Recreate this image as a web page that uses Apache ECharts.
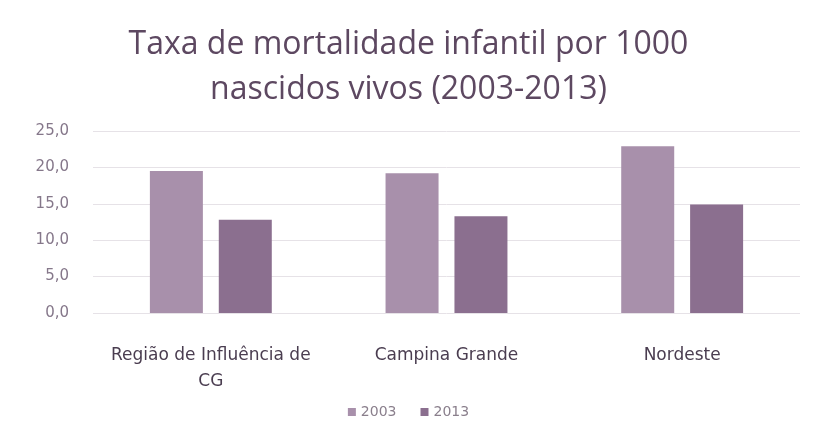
<!DOCTYPE html>
<html>
<head>
<meta charset="utf-8">
<script src="https://cdn.jsdelivr.net/npm/echarts@6/dist/echarts.min.js"></script>
<style>html,body{margin:0;padding:0;background:#fff}#c{width:817px;height:443px}</style>
</head>
<body>
<div id="c"></div>
<script>
var categories = ["Região de Influência de\nCG", "Campina Grande", "Nordeste"];
var seriesNames = ["2003", "2013"];
var values2003 = [19.5, 19.2, 22.9];
var values2013 = [12.8, 13.3, 14.9];
var yTicks = [0, 5, 10, 15, 20, 25];

var chart = echarts.init(document.getElementById('c'));
var titleFont = "'Open Sans', 'Noto Sans', sans-serif";
var font = "'DejaVu Sans', 'Noto Sans', sans-serif";
chart.setOption({
  animation: false,
  backgroundColor: '#ffffff',
  title: {
    text: 'Taxa de mortalidade infantil por 1000\nnascidos vivos (2003-2013)',
    left: 'center',
    top: 17,
    textStyle: { fontFamily: titleFont, fontSize: 32, fontWeight: 'normal', color: '#5d4861', lineHeight: 45 }
  },
  legend: {
    data: seriesNames,
    bottom: 19,
    left: 'center',
    itemWidth: 8, itemHeight: 8, itemGap: 24,
    icon: 'rect',
    textStyle: { fontFamily: font, fontSize: 14, color: '#8a7f8c' }
  },
  grid: { left: 93, right: 17, top: 131, bottom: 130 },
  xAxis: {
    type: 'category',
    data: categories,
    axisLine: { show: false },
    axisTick: { show: false },
    axisLabel: { fontFamily: font, fontSize: 17, color: '#4a3d50', margin: 30, lineHeight: 26, interval: 0 }
  },
  yAxis: {
    type: 'value',
    min: yTicks[0], max: yTicks[yTicks.length - 1], interval: 5,
    axisLine: { show: false },
    axisTick: { show: false },
    splitLine: { lineStyle: { color: '#e6e2e7', width: 1 } },
    axisLabel: {
      fontFamily: font, fontSize: 15, color: '#85778a', margin: 24,
      formatter: function (v) { return v.toFixed(1).replace('.', ','); }
    }
  },
  series: [
    { name: seriesNames[0], type: 'bar', data: values2003, barWidth: 53, barGap: '30%', itemStyle: { color: '#a890ab' } },
    { name: seriesNames[1], type: 'bar', data: values2013, barWidth: 53, itemStyle: { color: '#8b6f8f' } }
  ]
});
</script>
</body>
</html>
